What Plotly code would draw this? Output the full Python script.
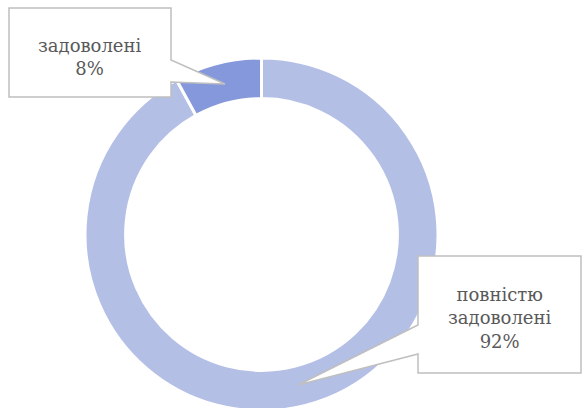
import plotly.graph_objects as go

labels = ["повністю задоволені", "задоволені"]
values = [92, 8]
colors = ["#B4BFE6", "#8598DC"]
label_texts = ["повністю<br>задоволені<br>92%", "задоволені<br>8%"]

W, H = 582, 412  # figure slightly taller than the 408 window; bottom is cropped


def px(x, y):
    return f"{x / W:.5f},{1 - y / H:.5f}"


def path(points):
    return "M " + " L ".join(px(x, y) for x, y in points) + " Z"


fig = go.Figure()
fig.add_trace(go.Pie(
    labels=labels,
    values=values,
    sort=False,
    direction="clockwise",
    rotation=0,
    hole=0.77,
    marker=dict(colors=colors, line=dict(color="white", width=3)),
    textinfo="none",
    hoverinfo="label+percent",
    domain=dict(x=[85 / W, 438 / W], y=[1 - 411 / H, 1 - 58 / H]),
    showlegend=False,
))

# callout boxes
callout1 = [(9, 8), (171, 8), (171, 60), (225, 84), (171, 82), (171, 97), (9, 97)]
callout2 = [(418, 256), (581, 256), (581, 373), (418, 373), (418, 354), (298, 385), (418, 325)]
for pts in (callout1, callout2):
    fig.add_shape(type="path", xref="paper", yref="paper", path=path(pts),
                  fillcolor="white", line=dict(color="#BFBFBF", width=1.5))

font = dict(family="DejaVu Serif", size=18, color="#595959")
fig.add_annotation(x=90 / W, y=1 - 57 / H, xref="paper", yref="paper",
                   xanchor="center", yanchor="middle",
                   text=label_texts[1], showarrow=False, font=font, align="center")
fig.add_annotation(x=500 / W, y=1 - 318 / H, xref="paper", yref="paper",
                   xanchor="center", yanchor="middle",
                   text=label_texts[0], showarrow=False, font=font, align="center")

fig.update_layout(
    width=W, height=H,
    margin=dict(l=0, r=0, t=0, b=0),
    paper_bgcolor="white",
    plot_bgcolor="white",
)
fig.write_html("out.html", config={"displayModeBar": False},
               post_script="document.body.style.margin='0';document.body.style.padding='0';"
                           "document.body.style.overflow='hidden';"
                           "document.documentElement.style.overflow='hidden';")
